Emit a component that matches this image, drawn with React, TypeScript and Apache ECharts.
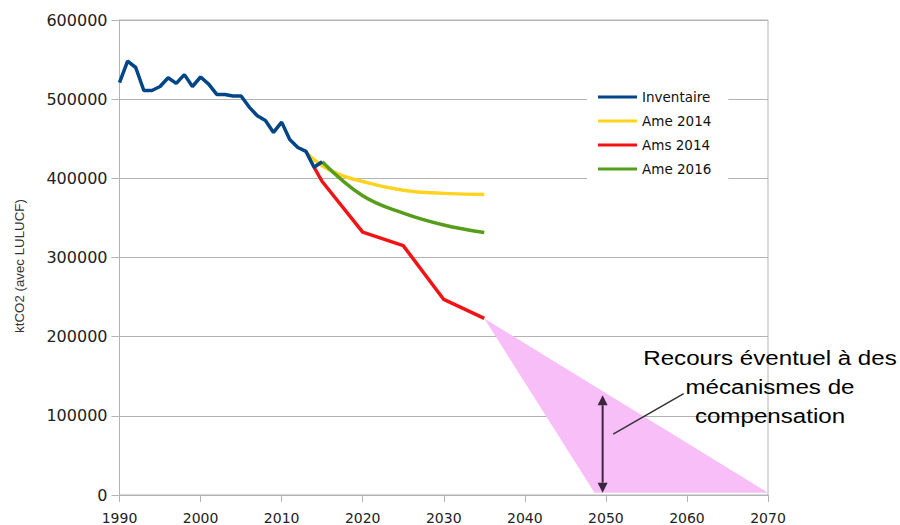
import React, { useEffect, useRef } from "react";
import * as echarts from "echarts";

// ---- data ----
const inventaireYears = [1990, 1991, 1992, 1993, 1994, 1995, 1996, 1997, 1998, 1999, 2000, 2001, 2002, 2003, 2004, 2005, 2006, 2007, 2008, 2009, 2010, 2011, 2012, 2013, 2014, 2015];
const inventaireValues = [521000, 548000, 540000, 511000, 511000, 516000, 527000, 520000, 531000, 516000, 528000, 519000, 506000, 506000, 504000, 504000, 490000, 479000, 473000, 458000, 471000, 449000, 439000, 434000, 414000, 421000];

const ame2014Years = [2013, 2016, 2020, 2025, 2030, 2035];
const ame2014Values = [433000, 410000, 396000, 385000, 381000, 379500];

const ams2014Years = [2014, 2015, 2020, 2025, 2030, 2035];
const ams2014Values = [414000, 396000, 332000, 315000, 247000, 223000];

const ame2016Years = [2015, 2020, 2025, 2030, 2035];
const ame2016Values = [421000, 378000, 356000, 341000, 331500];

const seriesNames = ["Inventaire", "Ame 2014", "Ams 2014", "Ame 2016"];

// compensation triangle (data coordinates)
const triangleX = [2035, 2048.6, 2070];
const triangleY = [223000, 3000, 3000];
const arrowX = 2049.6;
const arrowY = [3000, 126000];
const connectorX = [2050.9, 2059.6];
const connectorY = [76800, 128100];

const annotationLines = ["Recours éventuel à des", "mécanismes de", "compensation"];
const yAxisTitle = "ktCO2 (avec LULUCF)";

const xTickMin = 1990;
const xTickMax = 2070;
const yTickMax = 600000;

const zip = (xs: number[], ys: number[]) => xs.map((x, i) => [x, ys[i]]);

export default function App() {
  const ref = useRef<HTMLDivElement>(null);
  useEffect(() => {
    if (!ref.current) return;
    const chart = echarts.init(ref.current, undefined, { renderer: "svg" });
    const gridColor = "#b3b3b3";
    const pink = "#f7bef7";
    const arrowColor = "#3b2640";
    chart.setOption({
      animation: false,
      backgroundColor: "#ffffff",
      grid: {
        left: 119.5,
        right: 132,
        top: 20,
        bottom: 29,
        show: true,
        borderColor: gridColor,
        borderWidth: 1,
        containLabel: false,
      },
      xAxis: {
        type: "value",
        min: xTickMin,
        max: xTickMax,
        interval: 10,
        axisLine: { show: true, lineStyle: { color: gridColor, width: 1 } },
        axisTick: { show: true, length: 7, lineStyle: { color: gridColor } },
        splitLine: { show: false },
        axisLabel: {
          formatter: (v: number) => String(v),
          fontFamily: "DejaVu Sans",
          fontSize: 14,
          color: "#222",
          margin: 16,
        },
      },
      yAxis: {
        type: "value",
        min: 0,
        max: yTickMax,
        interval: 100000,
        axisLine: { show: true, lineStyle: { color: gridColor, width: 1 } },
        axisTick: { show: true, length: 8, lineStyle: { color: gridColor } },
        splitLine: { show: true, lineStyle: { color: gridColor, width: 1 } },
        axisLabel: {
          formatter: (v: number) => String(v),
          fontFamily: "DejaVu Sans",
          fontSize: 16,
          color: "#222",
          margin: 12,
        },
      },
      legend: {
        data: seriesNames,
        orient: "vertical",
        left: 587,
        top: 84,
        padding: [5, 17, 6, 11],
        backgroundColor: "#ffffff",
        icon: "rect",
        itemWidth: 39,
        itemHeight: 3,
        itemGap: 8,
        textStyle: { fontFamily: "DejaVu Sans", fontSize: 13.5, color: "#111", lineHeight: 16 },
      },
      series: [
        {
          type: "custom",
          name: "compensation",
          silent: true,
          z: 1,
          data: [[2050, 0]],
          renderItem: (_params: any, api: any) => {
            const poly = triangleX.map((x, i) => api.coord([x, triangleY[i]]));
            const a0 = api.coord([arrowX, arrowY[0]]);
            const a1 = api.coord([arrowX, arrowY[1]]);
            const c0 = api.coord([connectorX[0], connectorY[0]]);
            const c1 = api.coord([connectorX[1], connectorY[1]]);
            const h = 10;
            const w = 5;
            return {
              type: "group",
              children: [
                { type: "polygon", shape: { points: poly }, style: { fill: pink } },
                {
                  type: "line",
                  shape: { x1: a0[0], y1: a0[1] - h, x2: a1[0], y2: a1[1] + h },
                  style: { stroke: arrowColor, lineWidth: 2 },
                },
                {
                  type: "polygon",
                  shape: { points: [[a0[0], a0[1]], [a0[0] - w, a0[1] - h], [a0[0] + w, a0[1] - h]] },
                  style: { fill: arrowColor },
                },
                {
                  type: "polygon",
                  shape: { points: [[a1[0], a1[1]], [a1[0] - w, a1[1] + h], [a1[0] + w, a1[1] + h]] },
                  style: { fill: arrowColor },
                },
                {
                  type: "line",
                  shape: { x1: c0[0], y1: c0[1], x2: c1[0], y2: c1[1] },
                  style: { stroke: "#333", lineWidth: 1.5 },
                },
              ],
            };
          },
        },
        {
          name: "Ame 2014",
          type: "line",
          data: zip(ame2014Years, ame2014Values),
          showSymbol: false,
          symbol: "none",
          smooth: 0.5,
          lineStyle: { color: "#ffd320", width: 3.5 },
          itemStyle: { color: "#ffd320" },
          z: 2,
        },
        {
          name: "Ame 2016",
          type: "line",
          data: zip(ame2016Years, ame2016Values),
          showSymbol: false,
          symbol: "none",
          smooth: 0.4,
          lineStyle: { color: "#579d1c", width: 3.5 },
          itemStyle: { color: "#579d1c" },
          z: 3,
        },
        {
          name: "Ams 2014",
          type: "line",
          data: zip(ams2014Years, ams2014Values),
          showSymbol: false,
          symbol: "none",
          lineStyle: { color: "#f21414", width: 3.5 },
          itemStyle: { color: "#f21414" },
          z: 3,
        },
        {
          name: "Inventaire",
          type: "line",
          data: zip(inventaireYears, inventaireValues),
          showSymbol: false,
          symbol: "none",
          lineStyle: { color: "#004586", width: 3.5 },
          itemStyle: { color: "#004586" },
          z: 4,
        },
      ],
      graphic: [
        {
          type: "text",
          x: 19,
          y: 266,
          rotation: Math.PI / 2,
          z: 100,
          style: {
            text: yAxisTitle,
            fontFamily: "Liberation Sans",
            fontSize: 13.3,
            fill: "#333",
            align: "center",
            verticalAlign: "middle",
          },
        },
        {
          type: "text",
          x: 770,
          y: 387,
          scaleX: 1.15,
          originX: 0,
          originY: 0,
          z: 100,
          style: {
            text: annotationLines.join("\n"),
            fontFamily: "Liberation Sans",
            fontSize: 21,
            lineHeight: 29,
            fill: "#000",
            align: "center",
            verticalAlign: "middle",
          },
        },
      ],
    });
    return () => chart.dispose();
  }, []);
  return (
    <div
      ref={ref}
      style={{ position: "absolute", left: 0, top: 0, width: 900, height: 525, background: "#fff" }}
    />
  );
}
